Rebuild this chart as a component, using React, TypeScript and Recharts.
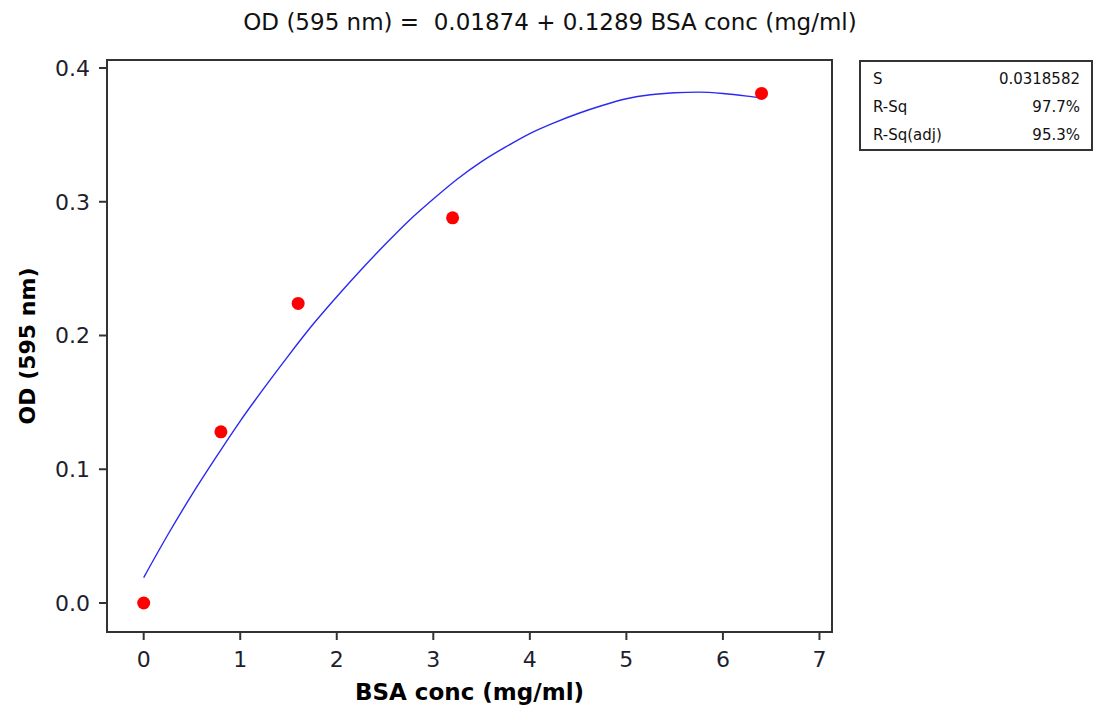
import { ComposedChart, Line, Scatter, XAxis, YAxis, ReferenceArea } from 'recharts';

const FONT = '"DejaVu Sans", Verdana, sans-serif';

// measured points
const bsaConc = [0, 0.8, 1.6, 3.2, 6.4];
const odValues = [0, 0.128, 0.224, 0.288, 0.381];

// fitted curve
const fitConc = [0, 0.25, 0.5, 0.75, 1, 1.25, 1.5, 1.75, 2, 2.25, 2.5, 2.75, 3, 3.25, 3.5, 3.75, 4, 4.25, 4.5, 4.75, 5, 5.25, 5.5, 5.75, 6, 6.25, 6.4];
const fitOd = [0.019, 0.051, 0.081, 0.109, 0.136, 0.161, 0.185, 0.208, 0.229, 0.249, 0.268, 0.286, 0.302, 0.317, 0.33, 0.341, 0.351, 0.359, 0.366, 0.372, 0.377, 0.38, 0.3815, 0.382, 0.381, 0.379, 0.3775];

const xTicks = [0, 1, 2, 3, 4, 5, 6, 7];
const yTicks = [0, 0.1, 0.2, 0.3, 0.4];

const statLabels = ['S', 'R-Sq', 'R-Sq(adj)'];
const statValues = ['0.0318582', '97.7%', '95.3%'];

const points = bsaConc.map((x, i) => ({ x, y: odValues[i] }));
const fit = fitConc.map((x, i) => ({ x, y: fitOd[i] }));

const xDomain: [number, number] = [-0.38, 7.13];
const yDomain: [number, number] = [-0.0217, 0.406];

const axisLine = { stroke: '#333', strokeWidth: 2 };
const tickStyle = { fill: '#1e1e2e', fontSize: 22, fontFamily: FONT };

const Dot = (props: any) => <circle cx={props.cx} cy={props.cy} r={6.5} fill="#ff0000" />;

export default function App() {
  return (
    <div style={{ position: 'fixed', left: 0, top: 0, width: 1103, height: 709, background: '#fff' }}>
      <div
        style={{
          position: 'absolute',
          top: 9,
          left: 0,
          width: 1100,
          textAlign: 'center',
          fontFamily: FONT,
          fontSize: 23,
          lineHeight: '26px',
          color: '#111',
          whiteSpace: 'pre',
        }}
      >
        {'OD (595 nm) =  0.01874 + 0.1289 BSA conc (mg/ml)'}
      </div>

      <ComposedChart width={1103} height={709} margin={{ top: 60, right: 271, bottom: 0, left: 0 }}>
        <XAxis
          dataKey="x"
          type="number"
          domain={xDomain}
          ticks={xTicks}
          allowDataOverflow
          height={77}
          tickSize={8}
          tickMargin={11}
          tick={tickStyle}
          axisLine={axisLine}
          tickLine={axisLine}
          label={{
            value: 'BSA conc (mg/ml)',
            position: 'insideBottom',
            offset: 9,
            style: { fill: '#000', fontSize: 23, fontWeight: 'bold', fontFamily: FONT },
          }}
        />
        <YAxis
          type="number"
          domain={yDomain}
          ticks={yTicks}
          allowDataOverflow
          width={107}
          tickSize={8}
          tickMargin={9}
          tick={tickStyle}
          tickFormatter={(v: number) => v.toFixed(1)}
          axisLine={axisLine}
          tickLine={axisLine}
          label={{
            value: 'OD (595 nm)',
            angle: -90,
            position: 'insideLeft',
            offset: 27,
            style: { textAnchor: 'middle', fill: '#000', fontSize: 22, fontWeight: 'bold', fontFamily: FONT },
          }}
        />
        {/* frame around the plot area */}
        <ReferenceArea
          x1={xDomain[0]}
          x2={xDomain[1]}
          y1={yDomain[0]}
          y2={yDomain[1]}
          fill="none"
          stroke="#333"
          strokeWidth={2}
          ifOverflow="visible"
        />
        <Line
          data={fit}
          dataKey="y"
          type="monotone"
          stroke="#2a2af0"
          strokeWidth={1.4}
          dot={false}
          activeDot={false}
          isAnimationActive={false}
        />
        <Scatter data={points} dataKey="y" shape={Dot} isAnimationActive={false} />
      </ComposedChart>

      <div
        style={{
          position: 'absolute',
          left: 859,
          top: 60,
          width: 234,
          height: 91,
          boxSizing: 'border-box',
          border: '2px solid #333',
          fontFamily: FONT,
          fontSize: 15,
          color: '#111',
          paddingTop: 3,
        }}
      >
        {statLabels.map((s, i) => (
          <div
            key={s}
            style={{ display: 'flex', justifyContent: 'space-between', padding: '0 11px 0 12px', lineHeight: '28px' }}
          >
            <span>{s}</span>
            <span>{statValues[i]}</span>
          </div>
        ))}
      </div>
    </div>
  );
}
